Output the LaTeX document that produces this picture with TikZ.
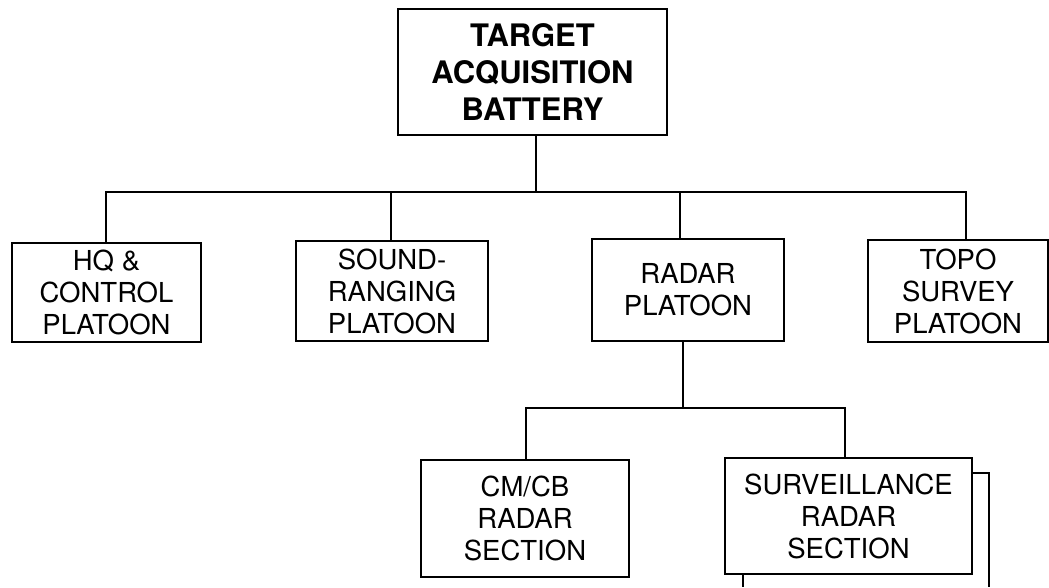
\documentclass[tikz,border=0pt]{standalone}
\usepackage{fontspec}
\setmainfont{TeX Gyre Heros}
\begin{document}
\begin{tikzpicture}[x=1pt,y=-1pt,
  box/.style={draw,line width=1.8pt,inner sep=0pt,align=center,
    font=\fontsize{27.5}{32}\selectfont},
  topbox/.style={box,font=\fontsize{31}{37}\selectfont\bfseries},
  conn/.style={line width=1.8pt}]
\useasboundingbox (0,0) rectangle (1049,587);
\node[topbox,minimum width=269pt,minimum height=126pt] (top) at (532.5,72) {TARGET\\ACQUISITION\\BATTERY};
\node[box,minimum width=189pt,minimum height=99pt] (hq) at (106.5,292.5) {HQ \&\\CONTROL\\PLATOON};
\node[box,minimum width=192pt,minimum height=100pt] (snd) at (392,291) {SOUND-\\RANGING\\PLATOON};
\node[box,minimum width=192pt,minimum height=102pt] (rad) at (688,290) {RADAR\\PLATOON};
\node[box,minimum width=180pt,minimum height=102pt] (topo) at (958,291) {TOPO\\SURVEY\\PLATOON};
\node[box,minimum width=208pt,minimum height=117pt] (cmcb) at (525,518.5) {CM/CB\\RADAR\\SECTION};
\node[box,minimum width=247pt,minimum height=116pt] (surv) at (848.5,516) {SURVEILLANCE\\RADAR\\SECTION};
\coordinate (bus) at (0,192);
\coordinate (sub) at (0,408);
\coordinate (e1) at (989,587);
\coordinate (e2) at (743,587);
% top level
\draw[conn] ([xshift=3.5pt]top.south) -- ([xshift=3.5pt]top.south |- bus);
\draw[conn] ([xshift=-0.5pt]hq.north) |- ([xshift=8pt]topo.north |- bus) -- ([xshift=8pt]topo.north);
\draw[conn] ([xshift=-1pt]snd.north) -- ([xshift=-1pt]snd.north |- bus);
\draw[conn] ([xshift=-8pt]rad.north) -- ([xshift=-8pt]rad.north |- bus);
% radar sub-level
\draw[conn] ([xshift=-5pt]rad.south) -- ([xshift=-5pt]rad.south |- sub);
\draw[conn] ([xshift=1pt]cmcb.north) |- ([xshift=-3.5pt]surv.north |- sub) -- ([xshift=-3.5pt]surv.north);
% continuing lines
\draw[conn] ([yshift=-16pt]surv.north east) -| (e1);
\draw[conn] (surv.south -| e2) -- (e2);
\end{tikzpicture}
\end{document}
